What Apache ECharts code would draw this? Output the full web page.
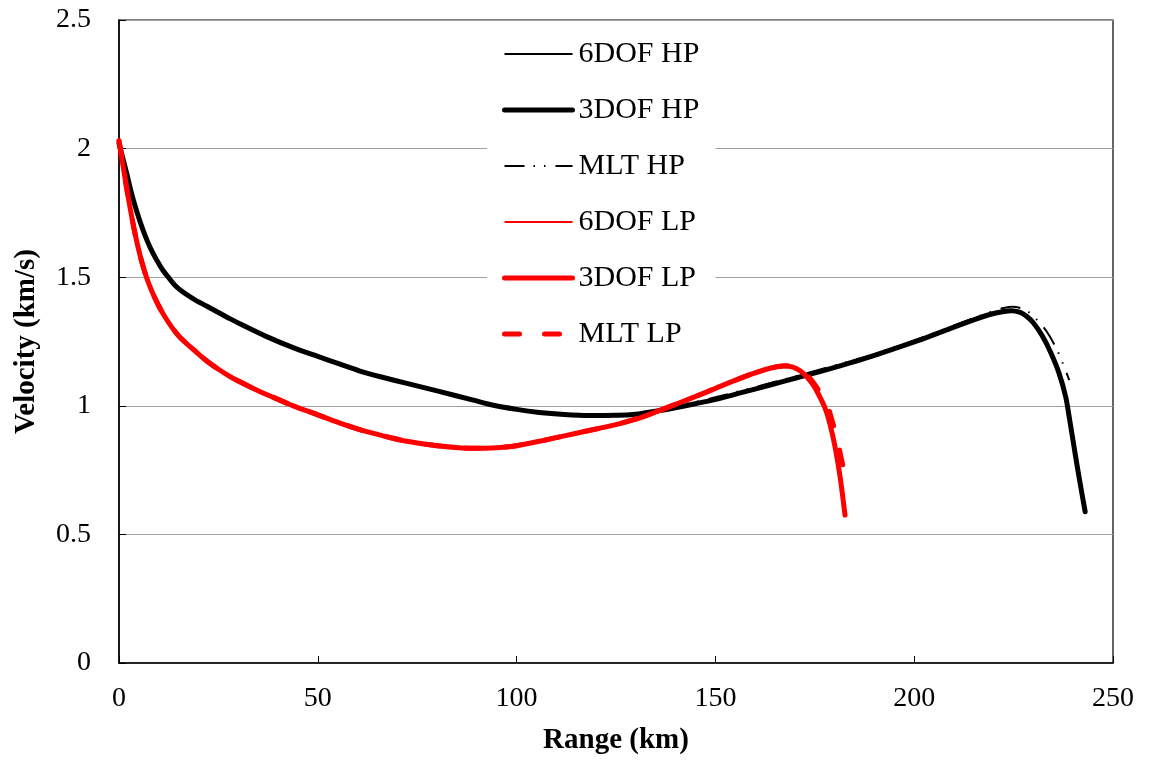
<!DOCTYPE html>
<html>
<head>
<meta charset="utf-8">
<script src="https://cdn.jsdelivr.net/npm/echarts@6/dist/echarts.min.js"></script>
<style>html,body{margin:0;padding:0;background:#fff}#c{width:1150px;height:761px}</style>
</head>
<body>
<div id="c"></div>
<script>
// Range (km), Velocity (km/s) pairs
const hp6dof = [[0,2.02],[1,1.96],[2,1.9],[3,1.835],[4,1.78],[5,1.73],[6,1.685],[7,1.645],[8,1.61],[9,1.58],[10,1.553],[11,1.528],[12.3,1.502],[14,1.47],[16,1.443],[18.7,1.416],[22,1.388],[25,1.363],[28,1.338],[31.3,1.312],[37,1.27],[43.8,1.226],[50,1.192],[55.6,1.162],[60.6,1.135],[66,1.112],[72.4,1.087],[80,1.058],[89.1,1.022],[93.3,1.005],[100,0.986],[105.7,0.974],[112,0.966],[118.3,0.962],[125,0.963],[129.2,0.966],[136.9,0.985],[144,1.006],[151.2,1.03],[157,1.054],[163.8,1.082],[170,1.108],[176.3,1.134],[182,1.159],[188,1.187],[195,1.223],[202.9,1.265],[209,1.301],[215.5,1.338],[219,1.356],[222.2,1.367],[224.5,1.371],[226.5,1.365],[228.1,1.351],[230,1.323],[232.2,1.273],[234.3,1.209],[236.4,1.129],[238.1,1.036],[239,0.956],[240,0.862],[241,0.766],[242,0.676],[243,0.59]];
const hp3dof = [[0,2.02],[1,1.96],[2,1.9],[3,1.835],[4,1.78],[5,1.73],[6,1.685],[7,1.645],[8,1.61],[9,1.58],[10,1.553],[11,1.528],[12.3,1.502],[14,1.47],[16,1.443],[18.7,1.416],[22,1.388],[25,1.363],[28,1.338],[31.3,1.312],[37,1.27],[43.8,1.226],[50,1.192],[55.6,1.162],[60.6,1.135],[66,1.112],[72.4,1.087],[80,1.058],[89.1,1.022],[93.3,1.005],[100,0.986],[105.7,0.974],[112,0.966],[118.3,0.962],[125,0.963],[129.2,0.966],[136.9,0.984],[144,1.005],[151.2,1.029],[157,1.053],[163.8,1.081],[170,1.107],[176.3,1.133],[182,1.158],[188,1.186],[195,1.222],[202.9,1.264],[209,1.3],[215.5,1.337],[219,1.355],[222.2,1.366],[224.5,1.37],[226.5,1.364],[228.1,1.35],[230,1.322],[232.2,1.272],[234.3,1.208],[236.4,1.128],[238.1,1.035],[239,0.955],[240,0.86],[241,0.765],[242,0.675],[243,0.588]];
const hpMlt = [[0,2.02],[1,1.96],[2,1.9],[3,1.835],[4,1.78],[5,1.73],[6,1.685],[7,1.645],[8,1.61],[9,1.58],[10,1.553],[11,1.528],[12.3,1.502],[14,1.47],[16,1.443],[18.7,1.416],[22,1.388],[25,1.363],[28,1.338],[31.3,1.312],[37,1.27],[43.8,1.226],[50,1.192],[55.6,1.162],[60.6,1.135],[66,1.112],[72.4,1.087],[80,1.058],[89.1,1.022],[93.3,1.005],[100,0.986],[105.7,0.974],[112,0.966],[118.3,0.962],[125,0.964],[130,0.969],[137,0.99],[144,1.012],[150,1.033],[160,1.073],[170,1.114],[180,1.157],[190,1.201],[200,1.254],[210,1.312],[216,1.347],[220,1.369],[222.5,1.38],[224.7,1.385],[227,1.379],[229,1.362],[231,1.332],[232.5,1.306],[234,1.272],[236,1.215],[237.5,1.16],[239,1.1]];
const lp6dof = [[0,2.03],[1,1.935],[2,1.84],[3,1.752],[4,1.672],[5,1.603],[6,1.545],[7,1.496],[8,1.455],[9,1.42],[10,1.388],[11.5,1.347],[13.3,1.305],[15,1.272],[17,1.242],[19,1.215],[22,1.175],[25,1.142],[28,1.113],[31.5,1.085],[35.5,1.055],[40,1.025],[43.8,1.0],[50,0.965],[55.6,0.933],[60.6,0.907],[66,0.885],[72.4,0.862],[80,0.846],[89.1,0.836],[95,0.838],[100,0.846],[105.7,0.862],[112,0.883],[117,0.9],[122.5,0.918],[126,0.931],[131,0.954],[136,0.983],[141,1.013],[146.9,1.049],[153,1.088],[159.6,1.127],[164,1.148],[167.2,1.156],[169.5,1.151],[171.4,1.136],[173,1.113],[174.5,1.084],[176,1.044],[177.6,0.991],[178.8,0.931],[180.1,0.841],[181.4,0.721],[182.6,0.578]];
const lp3dof = [[0,2.03],[1,1.935],[2,1.84],[3,1.752],[4,1.672],[5,1.603],[6,1.545],[7,1.496],[8,1.455],[9,1.42],[10,1.388],[11.5,1.347],[13.3,1.305],[15,1.272],[17,1.242],[19,1.215],[22,1.175],[25,1.142],[28,1.113],[31.5,1.085],[35.5,1.055],[40,1.025],[43.8,1.0],[50,0.965],[55.6,0.933],[60.6,0.907],[66,0.885],[72.4,0.862],[80,0.845],[89.1,0.835],[95,0.837],[100,0.845],[105.7,0.862],[112,0.883],[117,0.9],[122.5,0.918],[126,0.931],[131,0.953],[136,0.982],[141,1.012],[146.9,1.048],[153,1.087],[159.6,1.126],[164,1.147],[167.2,1.155],[169.5,1.15],[171.4,1.135],[173,1.112],[174.5,1.083],[176,1.043],[177.6,0.99],[178.8,0.93],[180.1,0.84],[181.4,0.72],[182.6,0.575]];
const lpMlt = [[0,2.03],[1,1.935],[2,1.84],[3,1.752],[4,1.672],[5,1.603],[6,1.545],[7,1.496],[8,1.455],[9,1.42],[10,1.388],[11.5,1.347],[13.3,1.305],[15,1.272],[17,1.242],[19,1.215],[22,1.175],[25,1.142],[28,1.113],[31.5,1.085],[35.5,1.055],[40,1.025],[43.8,1.0],[50,0.965],[55.6,0.933],[60.6,0.907],[66,0.885],[72.4,0.862],[80,0.845],[89.1,0.835],[95,0.837],[100,0.845],[105.7,0.862],[112,0.883],[117,0.9],[122.5,0.918],[126,0.931],[131,0.953],[136,0.982],[141,1.012],[146.9,1.048],[153,1.087],[159.6,1.126],[164,1.147],[167.5,1.156],[169.5,1.152],[171.5,1.14],[173.5,1.113],[175,1.083],[176.3,1.052],[178.1,1.004],[179.3,0.945],[180.6,0.875],[181.6,0.8],[182.6,0.731]];

const seriesNames = ['6DOF HP','3DOF HP','MLT HP','6DOF LP','3DOF LP','MLT LP'];
const xTicks = [0, 50, 100, 150, 200, 250];
const yTicks = [0, 0.5, 1, 1.5, 2, 2.5];

const FONT = '"Liberation Serif", "Times New Roman", serif';
const styles = [
  {color:'#000', width:1.8, type:'solid', cap:'butt'},
  {color:'#000', width:5, type:'solid', cap:'round'},
  {color:'#000', width:2, type:[20,9,1.5,9,1.5,10], cap:'butt'},
  {color:'#ff0000', width:1.8, type:'solid', cap:'butt'},
  {color:'#ff0000', width:5, type:'solid', cap:'round'},
  {color:'#ff0000', width:5, type:[15,25], cap:'round'}
];
const datasets = [hp6dof, hp3dof, hpMlt, lp6dof, lp3dof, lpMlt];

const chart = echarts.init(document.getElementById('c'), null, {renderer:'canvas'});
chart.setOption({
  animation: false,
  backgroundColor: '#fff',
  grid: {left:119, right:37, top:20, bottom:98, show:true, borderColor:'#000', borderWidth:1.2, backgroundColor:'transparent'},
  legend: {
    orient: 'vertical',
    left: 487, top: 26,
    backgroundColor: '#fff',
    padding: [13, 16, 13, 15],
    itemWidth: 68, itemHeight: 14, itemGap: 26,
    textStyle: {fontFamily: FONT, fontSize: 30, color:'#000', lineHeight: 30, padding:[0,0,0,1]},
    data: seriesNames.map((n,i)=>({name:n,
      itemStyle:{opacity:0, borderWidth:0, color:'transparent'},
      lineStyle:{color:styles[i].color, width:styles[i].width, type:styles[i].type, cap:styles[i].cap, opacity:1}})),
    selectedMode: false
  },
  xAxis: {
    type:'value', min: xTicks[0], max: xTicks[xTicks.length-1], interval: 50,
    name:'Range (km)', nameLocation:'middle', nameGap: 63,
    nameTextStyle:{fontFamily:FONT, fontSize:29, fontWeight:'bold', color:'#000'},
    axisLine:{show:true, lineStyle:{color:'#000', width:1.5}},
    axisTick:{show:true, inside:true, length:7, lineStyle:{color:'#000', width:1}},
    axisLabel:{fontFamily:FONT, fontSize:28, color:'#000', margin:22},
    splitLine:{show:false}
  },
  yAxis: {
    type:'value', min: yTicks[0], max: yTicks[yTicks.length-1], interval: 0.5,
    name:'Velocity (km/s)', nameLocation:'middle', nameGap: 78, nameRotate: 90,
    nameTextStyle:{fontFamily:FONT, fontSize:29, fontWeight:'bold', color:'#000'},
    axisLine:{show:true, lineStyle:{color:'#000', width:1.5}},
    axisTick:{show:true, inside:true, length:7, lineStyle:{color:'#000', width:1}},
    axisLabel:{fontFamily:FONT, fontSize:28, color:'#000', margin:28},
    splitLine:{show:true, lineStyle:{color:'#a0a0a0', width:1.2}}
  },
  series: seriesNames.map((n,i)=>({
    name:n, type:'line', data: datasets[i], showSymbol:false, symbol:'none',
    smooth:0.3,
    lineStyle:{color:styles[i].color, width:styles[i].width, type:styles[i].type, cap:styles[i].cap, join:'round'},
    itemStyle:{color:styles[i].color},
    z: 2 + i
  }))
});
</script>
</body>
</html>
